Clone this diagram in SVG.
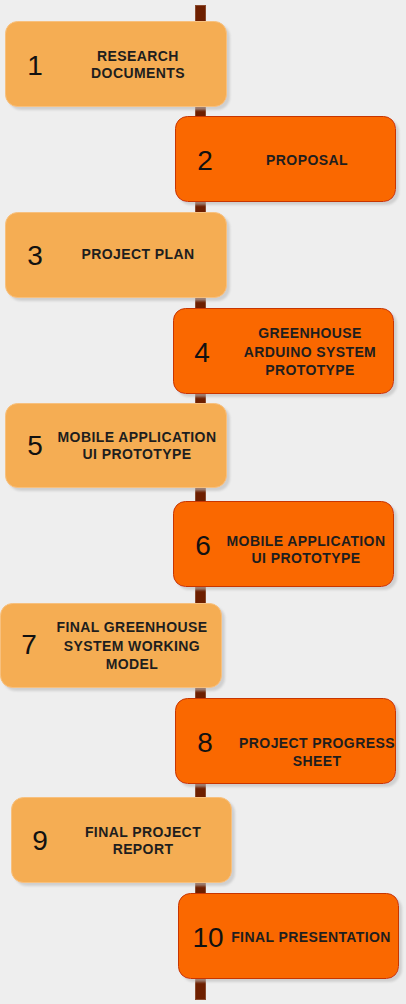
<svg xmlns="http://www.w3.org/2000/svg" width="406" height="1004" viewBox="0 0 406 1004">
<defs>
<filter id="sh" x="-10%" y="-10%" width="130%" height="130%">
<feOffset in="SourceAlpha" dx="3" dy="3" result="o"/>
<feGaussianBlur in="o" stdDeviation="1" result="b"/>
<feColorMatrix in="b" type="matrix" values="0 0 0 0 0.5  0 0 0 0 0.5  0 0 0 0 0.5  0 0 0 0.6 0" result="c"/>
<feMerge><feMergeNode in="c"/><feMergeNode in="SourceGraphic"/></feMerge>
</filter>
<style>
.light{fill:#F5AD53;stroke:#F7C07E;stroke-width:1}
.dark{fill:#FA6800;stroke:#C73500;stroke-width:1}
.num{font-family:"Liberation Sans",Arial,sans-serif;font-size:28px;fill:#111111;text-anchor:middle;dominant-baseline:central}
.lbl{font-family:"Liberation Sans",Arial,sans-serif;font-size:14px;font-weight:bold;fill:#1E1E1E;text-anchor:middle;letter-spacing:0.4px}
</style>
</defs>
<rect x="0" y="0" width="406" height="1004" fill="#EEEEEE"/>
<g id="connectors">
<rect x="195.5" y="5.5" width="10" height="994" fill="#6D1F00" stroke="#8A4A2E" stroke-width="1"/>
</g>
<g id="n1">
<rect class="light" x="5.5" y="21.5" width="221" height="85" rx="12" filter="url(#sh)"/>
<text class="num" x="35" y="65">1</text>
<text class="lbl" x="138" y="61">RESEARCH</text>
<text class="lbl" x="138" y="78">DOCUMENTS</text>
</g>
<g id="n2">
<rect class="dark" x="175.5" y="116.5" width="220" height="85" rx="12" filter="url(#sh)"/>
<text class="num" x="205" y="160">2</text>
<text class="lbl" x="307" y="165">PROPOSAL</text>
</g>
<g id="n3">
<rect class="light" x="5.5" y="212.5" width="221" height="85" rx="12" filter="url(#sh)"/>
<text class="num" x="35" y="255">3</text>
<text class="lbl" x="138" y="259">PROJECT PLAN</text>
</g>
<g id="n4">
<rect class="dark" x="173.5" y="308.5" width="220" height="85" rx="12" filter="url(#sh)"/>
<text class="num" x="202" y="352">4</text>
<text class="lbl" x="310" y="338">GREENHOUSE</text>
<text class="lbl" x="310" y="357">ARDUINO SYSTEM</text>
<text class="lbl" x="310" y="375">PROTOTYPE</text>
</g>
<g id="n5">
<rect class="light" x="5.5" y="403.5" width="221" height="84" rx="12" filter="url(#sh)"/>
<text class="num" x="35" y="445">5</text>
<text class="lbl" x="137" y="442">MOBILE APPLICATION</text>
<text class="lbl" x="137" y="459">UI PROTOTYPE</text>
</g>
<g id="n6">
<rect class="dark" x="173.5" y="501.5" width="220" height="85" rx="12" filter="url(#sh)"/>
<text class="num" x="203" y="545">6</text>
<text class="lbl" x="306" y="546">MOBILE APPLICATION</text>
<text class="lbl" x="306" y="563">UI PROTOTYPE</text>
</g>
<g id="n7">
<rect class="light" x="0.5" y="603.5" width="221" height="84" rx="12" filter="url(#sh)"/>
<text class="num" x="29" y="644">7</text>
<text class="lbl" x="132" y="632">FINAL GREENHOUSE</text>
<text class="lbl" x="132" y="651">SYSTEM WORKING</text>
<text class="lbl" x="132" y="669">MODEL</text>
</g>
<g id="n8">
<rect class="dark" x="175.5" y="698.5" width="220" height="85" rx="12" filter="url(#sh)"/>
<text class="num" x="205" y="742">8</text>
<text class="lbl" x="317" y="748">PROJECT PROGRESS</text>
<text class="lbl" x="317" y="766">SHEET</text>
</g>
<g id="n9">
<rect class="light" x="11.5" y="797.5" width="220" height="85" rx="12" filter="url(#sh)"/>
<text class="num" x="40" y="840">9</text>
<text class="lbl" x="143" y="837">FINAL PROJECT</text>
<text class="lbl" x="143" y="854">REPORT</text>
</g>
<g id="n10">
<rect class="dark" x="178.5" y="893.5" width="220" height="85" rx="12" filter="url(#sh)"/>
<text class="num" x="208" y="937">10</text>
<text class="lbl" x="311" y="942">FINAL PRESENTATION</text>
</g>
</svg>
